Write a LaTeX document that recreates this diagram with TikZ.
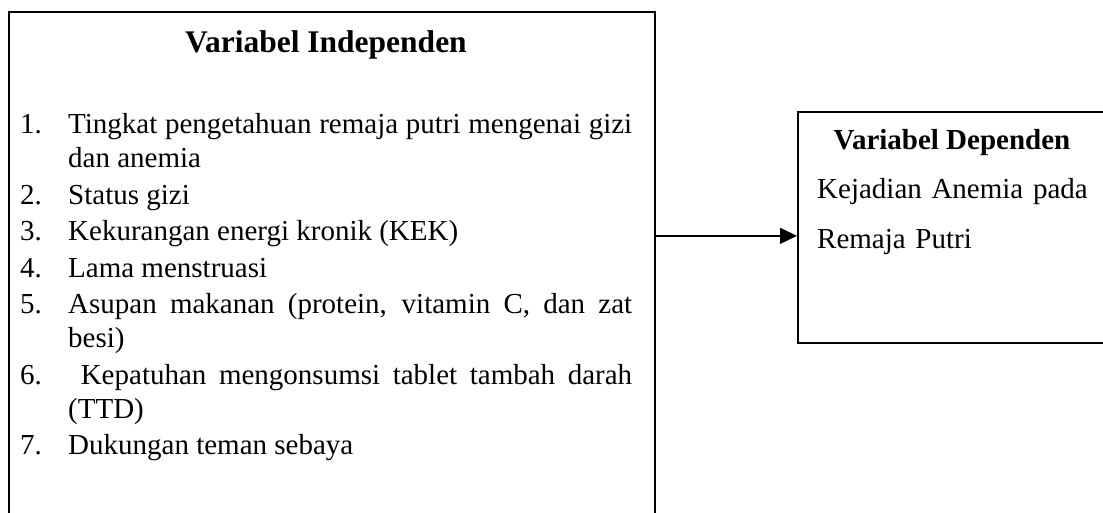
\documentclass[tikz,border=0pt]{standalone}
\usepackage{fontspec}
\setmainfont{Liberation Serif}
\usetikzlibrary{arrows.meta}
\newcommand{\itm}[2]{\hangindent=48pt\hangafter=1\noindent\makebox[48pt][l]{#1}#2\par}

\begin{document}
\begin{tikzpicture}[x=1pt,y=-1pt,box/.style={draw=black,line width=1.7pt,inner sep=0pt},bodytext/.style={inner sep=0pt,font=\fontsize{29}{34}\selectfont},headtext/.style={inner sep=0pt,anchor=base,font=\fontsize{#1}{36}\selectfont\bfseries},arrow/.style={-{Triangle[length=17pt,width=16pt]},line width=1.5pt,draw=black}]
\useasboundingbox (0,0) rectangle (1103,513);
\node[box,anchor=north west,minimum width=646pt,minimum height=540pt] (indep) at (8,11) {};
\node[box,anchor=north west,minimum width=400pt,minimum height=231pt] (dep) at (797,111) {};
\node[headtext=31.5] (indeptitle) at (326,53) {Variabel Independen};
\node[bodytext,anchor=base west,text width=612pt,align=justify] (indeplist) at (20,134) {\setlength{\parskip}{2.5pt}\hyphenpenalty=10000\exhyphenpenalty=10000
\itm{1.}{Tingkat pengetahuan remaja putri mengenai gizi dan anemia}
\itm{2.}{Status gizi}
\itm{3.}{Kekurangan energi kronik (KEK)}
\itm{4.}{Lama menstruasi}
\itm{5.}{Asupan makanan (protein, vitamin C, dan zat besi)}
\itm{6.}{\ Kepatuhan mengonsumsi tablet tambah darah (TTD)}
\itm{7.}{Dukungan teman sebaya}};
\node[headtext=29] (deptitle) at (952,150) {Variabel Dependen};
\node[bodytext,anchor=base west,text width=280pt,align=left,font=\fontsize{29}{50}\selectfont] (deptext) at (817,199) {Kejadian Anemia pada\\Remaja Putri};
\coordinate (arrowin) at ([yshift=-8.5pt]dep.west);
\draw[arrow] (indep.east |- arrowin) -- (arrowin);
\end{tikzpicture}
\end{document}
